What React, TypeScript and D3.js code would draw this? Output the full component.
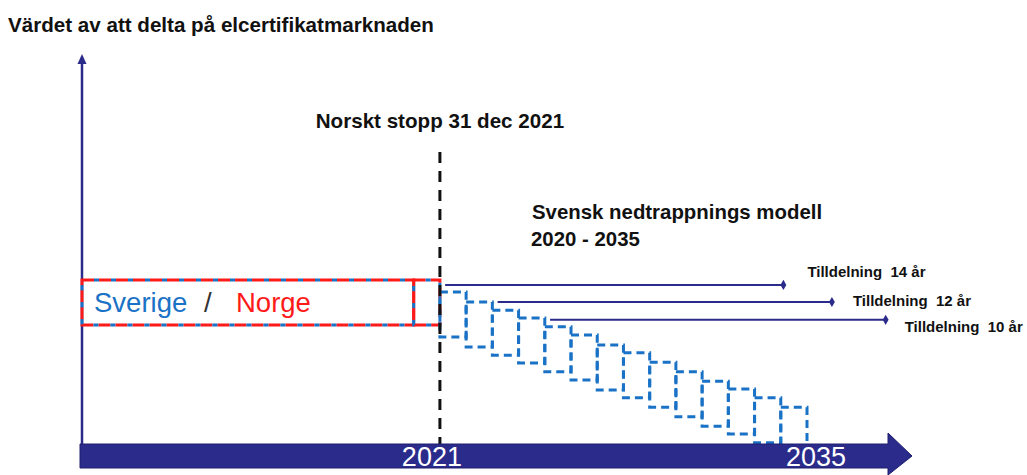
import React from 'react'
import * as d3 from 'd3'

// schematic of the elcertifikat market value, years on x, "value" on y (0-100)
const stepYears = [2021, 2022, 2023, 2024, 2025, 2026, 2027, 2028, 2029, 2030, 2031, 2032, 2033, 2034]
const stepTops = [39.2, 36.6, 34.5, 32.5, 30.2, 28.1, 25.5, 23.5, 21.1, 18.6, 16.2, 14.2, 11.9, 9.5]
const boxHeight = 11.6

const sharedStart = 2007.35
const sharedEnd = 2020
const sharedTop = 42.3

const allocLabels = ['Tilldelning  14 år', 'Tilldelning  12 år', 'Tilldelning  10 år']
const allocStart = [2021.2, 2023.2, 2025.2]
const allocEnd = [2034.1, 2035.95, 2038.0]
const allocValue = [41.0, 36.6, 32.0]

const axisTicks = [2021, 2035]
const stopYear = 2021

const W = 1027
const H = 475
const navy = '#2b2b8c'
const blue = '#1a72c6'
const red = '#ff1a1a'
const font = 'Liberation Sans, Arial, sans-serif'

export default function App () {
  const x = d3.scaleLinear().domain([sharedStart, 2035]).range([82, 807])
  const y = d3.scaleLinear().domain([0, 100]).range([444, 56])
  const hPx = y(0) - y(boxHeight)

  const axisY = y(0)
  const bandTop = axisY
  const bandBottom = axisY + 24
  const bandEnd = 888
  const tip = 912

  // label offsets from the line end points
  const labelOffsets = [[24, -8], [21, 4], [19, 12]]

  const arrow = d3.path()
  arrow.moveTo(x(sharedStart) - 2, bandTop)
  arrow.lineTo(bandEnd, bandTop)
  arrow.lineTo(bandEnd, axisY - 11)
  arrow.lineTo(tip, (bandTop + bandBottom) / 2)
  arrow.lineTo(bandEnd, bandBottom + 7)
  arrow.lineTo(bandEnd, bandBottom)
  arrow.lineTo(x(sharedStart) - 2, bandBottom)
  arrow.closePath()

  const dualBox = (x0, x1, key) => {
    const r = { x: x(x0), y: y(sharedTop), width: x(x1) - x(x0), height: hPx }
    return (
      <g key={key}>
        <rect {...r} fill='none' stroke={red} strokeWidth={3} strokeDasharray='12 5' />
        <rect {...r} fill='none' stroke={blue} strokeWidth={3} strokeDasharray='5 12' strokeDashoffset={-12} />
      </g>
    )
  }

  return (
    <svg width={W} height={H} style={{ position: 'absolute', left: 0, top: 0, background: '#fff' }} fontFamily={font}>
      <text x={8} y={32} fontSize={20.6} fontWeight='bold' fill='#111'>Värdet av att delta på elcertifikatmarknaden</text>

      {/* y axis */}
      <line x1={x(sharedStart)} x2={x(sharedStart)} y1={axisY} y2={62} stroke={navy} strokeWidth={2.5} />
      <path d={`M${x(sharedStart) - 4.5},${64} L${x(sharedStart)},${54} L${x(sharedStart) + 4.5},${64} Z`} fill={navy} />

      {/* allocation lines */}
      {allocLabels.map((lab, i) => (
        <g key={lab}>
          <line x1={x(allocStart[i])} x2={x(allocEnd[i])} y1={y(allocValue[i])} y2={y(allocValue[i])} stroke={navy} strokeWidth={2} />
          <path d={d3.symbol(d3.symbolDiamond, 30)()} transform={`translate(${x(allocEnd[i])},${y(allocValue[i])})`} fill={navy} />
          <text x={x(allocEnd[i]) + labelOffsets[i][0]} y={y(allocValue[i]) + labelOffsets[i][1]} fontSize={15} fontWeight='bold' fill='#111' style={{ whiteSpace: 'pre' }}>{lab}</text>
        </g>
      ))}

      {/* shared market */}
      {dualBox(sharedStart, sharedEnd, 'shared')}
      {dualBox(sharedEnd, stopYear, 'last')}
      <text x={x(sharedStart) + 12} y={y(sharedTop) + 32} fontSize={27.5} fill={blue}>Sverige</text>
      <text x={x(sharedStart) + 122} y={y(sharedTop) + 32} fontSize={27.5} fill='#333'>/</text>
      <text x={x(sharedStart) + 154} y={y(sharedTop) + 32} fontSize={27.5} fill={red}>Norge</text>

      {/* swedish phase-out steps */}
      {stepYears.map((yr, i) => (
        <rect key={yr} x={x(yr)} y={y(stepTops[i])} width={x(yr + 1) - x(yr)} height={hPx}
          fill='none' stroke={blue} strokeWidth={3} strokeDasharray='8 5' />
      ))}

      {/* norwegian stop */}
      <line x1={x(stopYear)} x2={x(stopYear)} y1={152} y2={axisY} stroke='#111' strokeWidth={3} strokeDasharray='11 8' />
      <text x={x(stopYear)} y={128} textAnchor='middle' fontSize={20.6} fontWeight='bold' fill='#111'>Norskt stopp 31 dec 2021</text>

      <text x={532} y={219} fontSize={20.4} fontWeight='bold' fill='#111'>Svensk nedtrappnings modell</text>
      <text x={531} y={246} fontSize={20.4} fontWeight='bold' fill='#111'>2020 - 2035</text>

      {/* time axis */}
      <path d={arrow.toString()} fill={navy} stroke='#1e1e6e' strokeWidth={1} />
      {axisTicks.map((t, i) => (
        <text key={t} x={x(t) + (i === 0 ? -8 : 9)} y={bandTop + 22} textAnchor='middle' fontSize={27} fill='#fff'>{t}</text>
      ))}
    </svg>
  )
}
